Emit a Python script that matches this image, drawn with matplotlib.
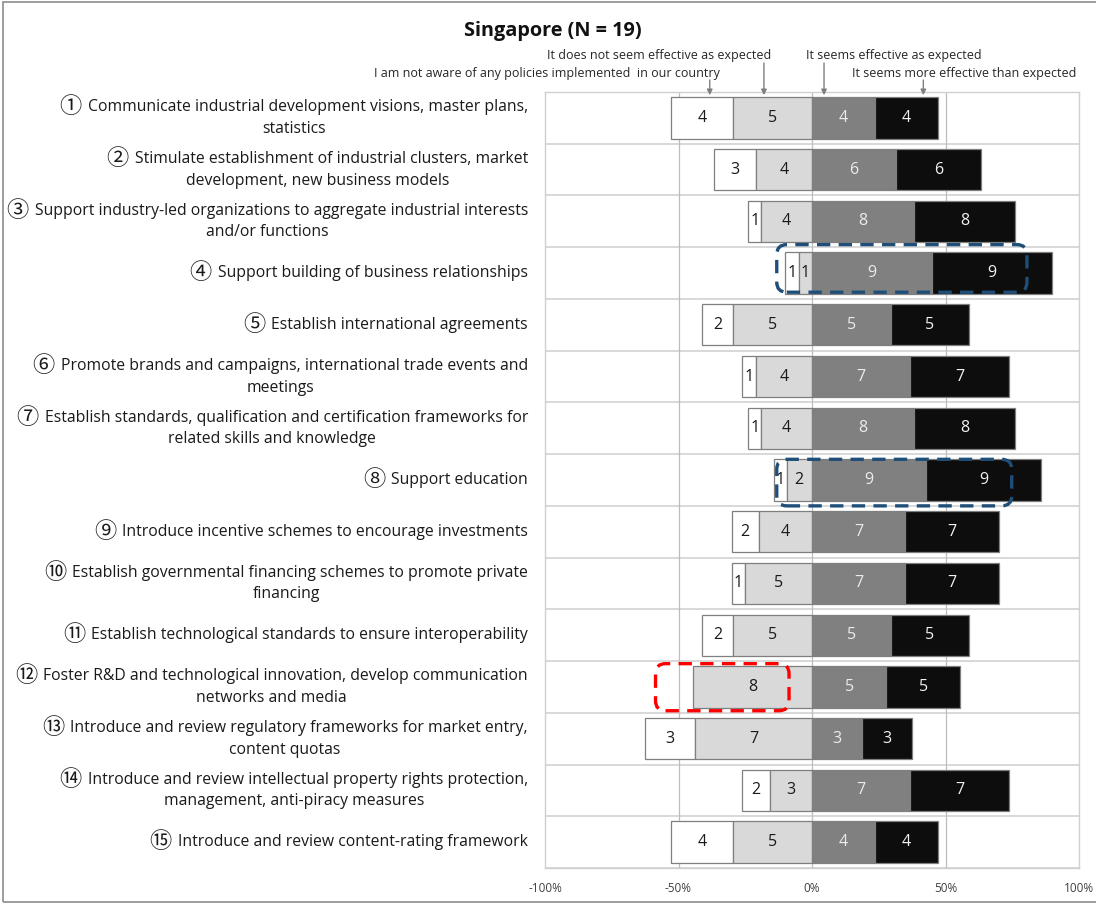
import numpy as np
import matplotlib
matplotlib.use("Agg")
import matplotlib.pyplot as plt
from matplotlib.patches import FancyBboxPatch, Rectangle
from matplotlib.transforms import IdentityTransform

plt.rcParams["font.family"] = ["Open Sans", "DejaVu Sans", "Noto Sans CJK JP"]

# policy measures, top to bottom (circled number, text lines)
numbers = ["①", "②", "③", "④", "⑤", "⑥", "⑦", "⑧", "⑨", "⑩", "⑪", "⑫", "⑬", "⑭", "⑮"]
measures = [
    "Communicate industrial development visions, master plans,\nstatistics",
    "Stimulate establishment of industrial clusters, market\ndevelopment, new business models",
    "Support industry-led organizations to aggregate industrial interests\nand/or functions",
    "Support building of business relationships",
    "Establish international agreements",
    "Promote brands and campaigns, international trade events and\nmeetings",
    "Establish standards, qualification and certification frameworks for\nrelated skills and knowledge",
    "Support education",
    "Introduce incentive schemes to encourage investments",
    "Establish governmental financing schemes to promote private\nfinancing",
    "Establish technological standards to ensure interoperability",
    "Foster R&D and technological innovation, develop communication\nnetworks and media",
    "Introduce and review regulatory frameworks for market entry,\ncontent quotas",
    "Introduce and review intellectual property rights protection,\nmanagement, anti-piracy measures",
    "Introduce and review content-rating framework",
]

# response counts per measure
not_aware = [4, 3, 1, 1, 2, 1, 1, 1, 2, 1, 2, 0, 3, 2, 4]
not_effective = [5, 4, 4, 1, 5, 4, 4, 2, 4, 5, 5, 8, 7, 3, 5]
effective = [4, 6, 8, 9, 5, 7, 8, 9, 7, 7, 5, 5, 3, 7, 4]
more_effective = [4, 6, 8, 9, 5, 7, 8, 9, 7, 7, 5, 5, 3, 7, 4]

xticks = [-100, -50, 0, 50, 100]
xtick_labels = ["-100%", "-50%", "0%", "50%", "100%"]

na = np.array(not_aware, float)
ne = np.array(not_effective, float)
ef = np.array(effective, float)
me = np.array(more_effective, float)
total = na + ne + ef + me
p_na, p_ne, p_ef, p_me = (a / total * 100 for a in (na, ne, ef, me))

fig = plt.figure(figsize=(10.96, 9.05), dpi=100)
ax = fig.add_axes([545 / 1096, 1 - 868 / 905, 534 / 1096, 776 / 905])

y = np.arange(len(measures))
h = 0.8
edge = "#7f7f7f"

segments = [
    (p_na, -(p_ne + p_na), not_aware, "white", "#1a1a1a"),
    (p_ne, -p_ne, not_effective, "#d9d9d9", "#1a1a1a"),
    (p_ef, np.zeros_like(p_ef), effective, "#808080", "#ececec"),
    (p_me, p_ef, more_effective, "#0d0d0d", "#f2f2f2"),
]
for width, left, counts, color, tcolor in segments:
    for yi, w, l, c in zip(y, width, left, counts):
        if c == 0:
            continue
        ax.barh(yi, w, left=l, height=h, color=color, edgecolor=edge,
                linewidth=0.9, zorder=3)
        ax.text(l + w / 2, yi, str(c), ha="center", va="center",
                fontsize=11.5, color=tcolor, zorder=4)

ax.set_xlim(-100, 100)
ax.set_ylim(len(measures) - 0.5, -0.5)

# row separators and vertical guides
for b in np.arange(-0.5, len(measures), 1.0):
    ax.axhline(b, color="#d6d6d6", linewidth=1.3, zorder=1)
for gx in (-50, 0, 50):
    ax.axvline(gx, color="#bdbdbd", linewidth=0.9, zorder=1)
for s in ax.spines.values():
    s.set_color("#d0d0d0")
    s.set_linewidth(1.0)

ax.set_xticks(xticks)
ax.set_xticklabels(xtick_labels)
ax.set_yticks([])
ax.tick_params(axis="x", length=0, pad=10, labelsize=8.5, labelcolor="#404040")

# row labels: circled number drawn larger, second line centred under the first
renderer = fig.canvas.get_renderer()
ident = IdentityTransform()
x_right = 528
for yi, num, text in zip(y, numbers, measures):
    yc = ax.transData.transform((0, yi))[1]
    lines = text.split("\n")
    y1 = yc + 10.5 if len(lines) > 1 else yc
    t1 = fig.text(x_right, y1, lines[0], transform=ident, ha="right",
                  va="center", fontsize=11.3, color="#1a1a1a")
    left = t1.get_window_extent(renderer).x0
    tn = fig.text(left - 6, y1 + 0.5, num, transform=ident, ha="right",
                  va="center", fontsize=16, color="#1a1a1a",
                  family=["Noto Sans CJK JP", "DejaVu Sans"])
    left = tn.get_window_extent(renderer).x0
    if len(lines) > 1:
        fig.text((left + x_right) / 2, yc - 11, lines[1], transform=ident,
                 ha="center", va="center", fontsize=11.3, color="#1a1a1a")

fig.text(553 / 1096, 1 - 31 / 905, "Singapore (N = 19)", ha="center",
         va="center", fontsize=14.3, fontweight="bold", color="#111111")

# category call-outs with arrows into the first bar
arrow_kw = dict(arrowstyle="-|>", color="#7f7f7f", lw=1.0,
                mutation_scale=8, shrinkA=0, shrinkB=0)
callouts = [
    ("It does not seem effective as expected", -18, 56, 659, "center", 63),
    ("I am not aware of any policies implemented  in our country", -38.3, 73, 720, "right", 80),
    ("It seems effective as expected", 4.5, 56, 806, "left", 63),
    ("It seems more effective than expected", 41.7, 73, 1076, "right", 80),
]
bar_top = ax.transData.transform((0, -h / 2))[1]
for text, xd, ty, tx, ha, ay in callouts:
    fig.text(tx / 1096, 1 - ty / 905, text, ha=ha, va="center",
             fontsize=9, color="#262626")
    xp = ax.transData.transform((xd, 0))[0]
    ax.annotate("", xy=(xp, bar_top + 2), xytext=(xp, 905 - ay),
                xycoords=ident, textcoords=ident,
                arrowprops=arrow_kw, annotation_clip=False)

# highlight boxes: x range in %, row index, offsets in row units
highlights = [
    (-13.2, 80.5, 3, -0.55, 0.37, "#1f4e79"),
    (-13.2, 74.8, 7, -0.40, 0.50, "#1f4e79"),
    (-58.6, -8.6, 11, -0.45, 0.46, "#ff0000"),
]
for x0, x1, row, dy0, dy1, color in highlights:
    (px0, py0) = ax.transData.transform((x0, row + dy1))
    (px1, py1) = ax.transData.transform((x1, row + dy0))
    box = FancyBboxPatch((px0, py0), px1 - px0, py1 - py0,
                         boxstyle="round,pad=0,rounding_size=10",
                         transform=ident, fill=False,
                         edgecolor=color, linewidth=2.4,
                         linestyle=(0, (4, 2.5)), zorder=6)
    fig.patches.append(box)

# outer frame
fig.patches.append(Rectangle((3 / 1096, 3 / 905), 1.1, 1 - 5 / 905,
                             transform=fig.transFigure, fill=False,
                             edgecolor="#8c8c8c", linewidth=1.2))

fig.savefig("out.png", dpi=100)
